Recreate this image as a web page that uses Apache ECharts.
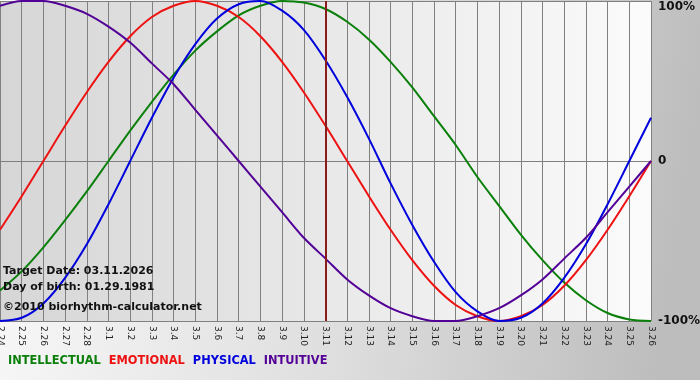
<!DOCTYPE html>
<html>
<head>
<meta charset="utf-8">
<script src="https://cdn.jsdelivr.net/npm/echarts@6/dist/echarts.min.js"></script>
<style>
html,body{margin:0;padding:0;}
#chart{width:700px;height:380px;}
</style>
</head>
<body>
<div id="chart"></div>
<script>
var categories = ['2.24','2.25','2.26','2.27','2.28','3.1','3.2','3.3','3.4','3.5','3.6','3.7','3.8','3.9','3.10','3.11','3.12','3.13','3.14','3.15','3.16','3.17','3.18','3.19','3.20','3.21','3.22','3.23','3.24','3.25','3.26'];
var targetDay = '3.11';
var intellectual = [-81,-69,-54,-37,-19,0,19,37,54,69,81,91,97,100,99,95,87,76,62,46,28,10,-10,-28,-46,-62,-76,-87,-95,-99,-100];
var emotional = [-43,-22,0,22,43,62,78,90,97,100,97,90,78,62,43,22,0,-22,-43,-62,-78,-90,-97,-100,-97,-90,-78,-62,-43,-22,0];
var physical = [-100,-98,-89,-73,-52,-27,0,27,52,73,89,98,100,94,82,63,40,14,-14,-40,-63,-82,-94,-100,-98,-89,-73,-52,-27,0,27];
var intuitive = [97,100,100,97,92,84,74,61,48,32,16,0,-16,-32,-48,-61,-74,-84,-92,-97,-100,-100,-97,-92,-84,-74,-61,-48,-32,-16,0];
var yTicks = [-100, 0, 100];
var infoLines = ['Target Date: 03.11.2026', 'Day of birth: 01.29.1981', '\u00a92010 biorhythm-calculator.net'];

var FONT = 'DejaVu Sans';
var colors = {INTELLECTUAL:'#0a800a', EMOTIONAL:'#ee1111', PHYSICAL:'#0000dd', INTUITIVE:'#520096'};

function line(name, data, extra) {
  var s = {
    name: name, type: 'line', data: data, smooth: 0.3,
    symbol: 'none', lineStyle: {color: colors[name], width: 2},
    itemStyle: {color: colors[name]}, silent: true, animation: false
  };
  if (extra) for (var k in extra) s[k] = extra[k];
  return s;
}

var chart = echarts.init(document.getElementById('chart'), null, {renderer: 'canvas'});
chart.setOption({
  animation: false,
  backgroundColor: {type:'linear', x:0, y:0, x2:1, y2:0.3, colorStops:[{offset:0,color:'#fafafa'},{offset:0.55,color:'#dedede'},{offset:1,color:'#bdbdbd'}]},
  grid: {left: 0, top: 1, right: 49, bottom: 59, show: true, borderWidth: 0,
    outerBoundsMode: 'none', containLabel: false,
    backgroundColor: {type:'linear', x:0, y:0, x2:1, y2:0, colorStops:[{offset:0,color:'#d6d6d6'},{offset:1,color:'#fbfbfb'}]}},
  legend: {
    left: -2, bottom: 8, itemWidth: 0, itemHeight: 0, itemGap: 3, icon: 'none',
    selectedMode: false,
    data: ['INTELLECTUAL','EMOTIONAL','PHYSICAL','INTUITIVE'].map(function(n){
      return {name: n, textStyle: {color: colors[n], fontFamily: FONT, fontWeight: 'bold', fontSize: 11.4}};
    })
  },
  xAxis: {
    type: 'category', data: categories, boundaryGap: false,
    axisLine: {show: true, lineStyle: {color: '#808080', width: 1}},
    axisTick: {show: true, interval: 0, length: 4, lineStyle: {color: '#808080'}},
    axisLabel: {interval: 0, rotate: -90, fontFamily: FONT, fontSize: 9, color: '#222', margin: 5},
    splitLine: {show: true, interval: 0, lineStyle: {color: '#808080', width: 1}}
  },
  yAxis: {
    type: 'value', position: 'right', min: yTicks[0], max: yTicks[2], interval: 100,
    axisLine: {show: false}, axisTick: {show: false},
    splitLine: {show: true, lineStyle: {color: '#808080', width: 1}},
    axisLabel: {
      margin: 7, fontFamily: FONT, fontWeight: 'bold', fontSize: 12, color: '#111',
      verticalAlignMaxLabel: 'top',
      formatter: function(v){ return v === 0 ? '0' : v + '%'; }
    }
  },
  graphic: infoLines.map(function(t, i){
    return {type: 'text', left: 3, top: [266, 282, 302][i], z: 100,
      style: {text: t, fontFamily: FONT, fontWeight: 'bold', fontSize: 11, fill: '#111'}};
  }),
  series: [
    line('INTELLECTUAL', intellectual),
    line('EMOTIONAL', emotional),
    line('PHYSICAL', physical),
    line('INTUITIVE', intuitive, {
      markLine: {silent: true, symbol: ['none','none'], label: {show: false},
        lineStyle: {color: '#8b1c1c', width: 2, type: 'solid'},
        data: [{xAxis: targetDay}]}
    })
  ]
});
</script>
</body>
</html>
